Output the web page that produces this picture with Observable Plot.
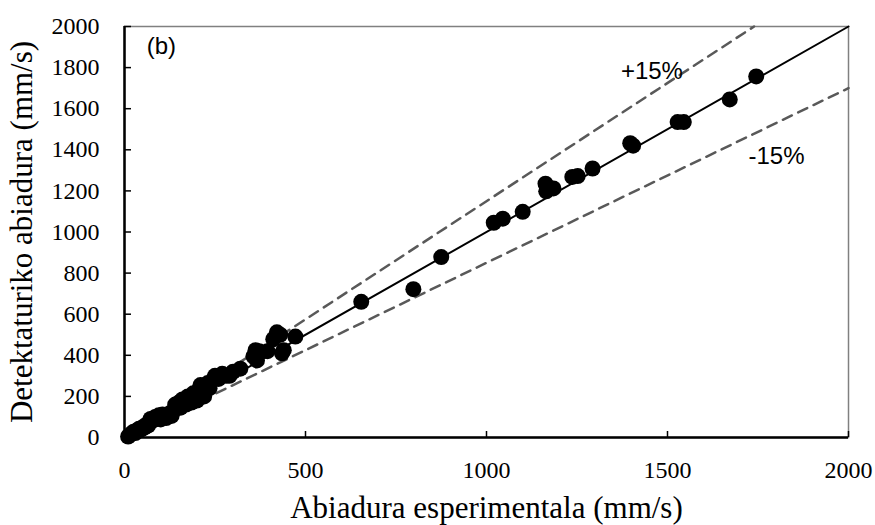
<!DOCTYPE html>
<html>
<head>
<meta charset="utf-8">
<script src="https://cdn.jsdelivr.net/npm/d3@7"></script>
<script src="https://cdn.jsdelivr.net/npm/@observablehq/plot@0.6"></script>
<style>
  html, body { margin: 0; padding: 0; background: #fff; }
  #chart { width: 875px; height: 525px; }
</style>
</head>
<body>
<div id="chart"></div>
<script>
// Experimental speed (mm/s)
const experimental = [
  10, 15, 20, 25, 30, 35, 40, 45, 50, 55, 60, 65, 70, 72, 78, 85, 90, 95, 100, 105,
  110, 115, 120, 125, 130, 135, 140, 145, 150, 155, 160, 165, 170, 175, 180, 185, 190, 195, 200, 205,
  210, 215, 220, 225, 230, 235, 245, 250, 260, 270, 280, 290, 300, 320, 356, 362, 366, 372, 395, 411,
  421, 430, 435, 440, 472, 654, 798, 875, 1020, 1045, 1100, 1163, 1165, 1185, 1237, 1252, 1293, 1397, 1405, 1528,
  1545, 1672, 1745
];
// Detected speed (mm/s)
const detected = [
  5, 12, 20, 28, 22, 35, 42, 38, 50, 48, 62, 58, 75, 90, 82, 100, 95, 108, 88, 112,
  100, 95, 110, 118, 105, 128, 160, 150, 170, 145, 185, 175, 160, 200, 195, 170, 215, 205, 180, 230,
  255, 225, 200, 245, 265, 240, 280, 300, 285, 310, 300, 300, 320, 335, 395, 425, 375, 420, 420, 478,
  512, 500, 410, 425, 491, 660, 722, 878, 1045, 1065, 1098, 1235, 1198, 1212, 1268, 1272, 1309, 1432, 1420, 1535,
  1535, 1645, 1757
];
const xTicks = [0, 500, 1000, 1500, 2000];
const yTicks = [0, 200, 400, 600, 800, 1000, 1200, 1400, 1600, 1800, 2000];
const axisMax = 2000;
const bandPct = 0.15;
const annText = ["(b)", "+15%", "-15%"];
const annX = [102, 1457, 1801];
const annY = [1903, 1781, 1367];
const xLabel = "Abiadura esperimentala (mm/s)";
const yLabel = "Detektaturiko abiadura (mm/s)";

const points = experimental.map((x, i) => ({x, y: detected[i]}));
const idLine = [{x: 0, y: 0}, {x: axisMax, y: axisMax}];
const upLine = [{x: 0, y: 0}, {x: axisMax / (1 + bandPct), y: axisMax}];
const loLine = [{x: 0, y: 0}, {x: axisMax, y: axisMax * (1 - bandPct)}];
const anns = annText.map((t, i) => ({t, x: annX[i], y: annY[i]}));

const W = 875, H = 525;
const mL = 124, mR = 27, mT = 26, mB = 88;
const plotW = W - mL - mR, plotH = H - mT - mB;
const serif = "'Liberation Serif', 'Times New Roman', serif";
const sans = "'Liberation Sans', Arial, sans-serif";

const chart = Plot.plot({
  width: W,
  height: H,
  marginLeft: mL,
  marginRight: mR,
  marginTop: mT,
  marginBottom: mB,
  style: {fontFamily: serif, fontSize: "24px", color: "#000", background: "#fff", overflow: "visible"},
  x: {domain: [0, axisMax]},
  y: {domain: [0, axisMax]},
  marks: [
    Plot.frame({stroke: "#808080", strokeWidth: 1.5}),
    Plot.line(upLine, {x: "x", y: "y", stroke: "#595959", strokeWidth: 2.5, strokeDasharray: "10,7"}),
    Plot.line(loLine, {x: "x", y: "y", stroke: "#595959", strokeWidth: 2.5, strokeDasharray: "10,7"}),
    Plot.line(idLine, {x: "x", y: "y", stroke: "#000", strokeWidth: 2}),
    Plot.dot(points, {x: "x", y: "y", r: 8, fill: "#000", stroke: "none"}),
    Plot.tickX(xTicks, {x: d => d, stroke: "#000", strokeWidth: 1.5, insetTop: plotH - 6}),
    Plot.tickY(yTicks, {y: d => d, stroke: "#000", strokeWidth: 1.5, insetRight: plotW - 7}),
    Plot.ruleX([0], {stroke: "#000", strokeWidth: 2.5}),
    Plot.ruleY([0], {stroke: "#000", strokeWidth: 2.5}),
    Plot.axisX(xTicks, {tickSize: 0, tickPadding: 23, fontSize: 24, label: null, tickFormat: d => String(d)}),
    Plot.axisY(yTicks, {tickSize: 0, tickPadding: 25, fontSize: 24, label: null, tickFormat: d => String(d)}),
    Plot.text([xLabel], {text: d => d, frameAnchor: "bottom", dy: 80, fontSize: 31, fontFamily: serif, fill: "#000"}),
    Plot.text([yLabel], {text: d => d, frameAnchor: "left", dx: -102, rotate: -90, textAnchor: "middle", lineAnchor: "middle", fontSize: 31, fontFamily: serif, fill: "#000"}),
    Plot.text(anns, {x: "x", y: "y", text: "t", fontSize: 24, fontFamily: sans, fill: "#000"})
  ]
});
document.getElementById("chart").appendChild(chart);
</script>
</body>
</html>
